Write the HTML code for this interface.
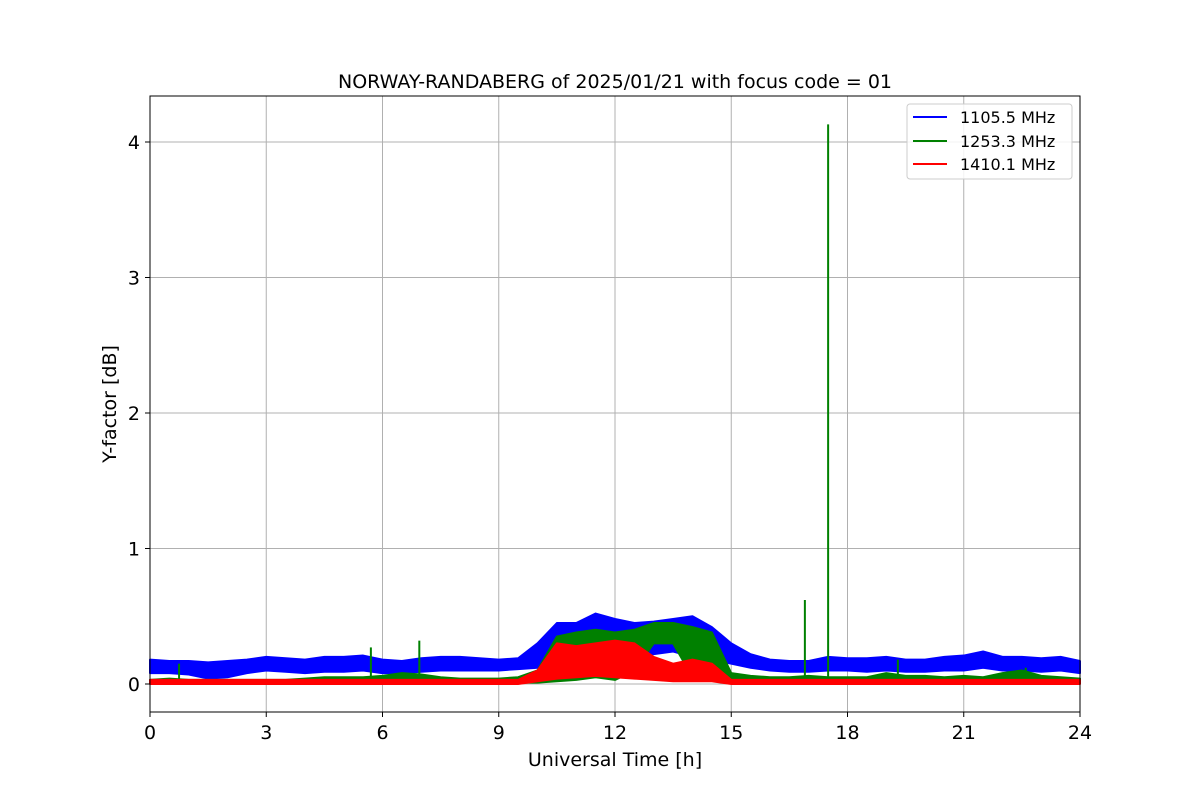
<!DOCTYPE html>
<html><head><meta charset="utf-8"><style>
body{margin:0;background:#fff;}
svg text{font-family:"DejaVu Sans","Liberation Sans",sans-serif;}
</style></head><body>
<svg id="chart" width="1200" height="800" xmlns="http://www.w3.org/2000/svg">
<rect width="1200" height="800" fill="#fff"/>
<text x="615" y="88" text-anchor="middle" font-size="19">NORWAY-RANDABERG of 2025/01/21 with focus code = 01</text>
<g id="grid"></g>
<g id="series"></g>
<rect x="150" y="96" width="930" height="616" fill="none" stroke="#000" stroke-width="1"/>
<g id="axes"></g>
<text x="615" y="766" text-anchor="middle" font-size="19">Universal Time [h]</text>
<text transform="translate(116,404) rotate(-90)" text-anchor="middle" font-size="19">Y-factor [dB]</text>
<g>
<rect x="907" y="104" width="165" height="75" rx="3" fill="#fff" fill-opacity="0.85" stroke="#ccc"/>
<line x1="913" y1="117" x2="947" y2="117" stroke="#0000ff" stroke-width="2"/>
<text x="960" y="123" font-size="16">1105.5 MHz</text>
<line x1="913" y1="141" x2="947" y2="141" stroke="#008000" stroke-width="2"/>
<text x="960" y="147" font-size="16">1253.3 MHz</text>
<line x1="913" y1="164" x2="947" y2="164" stroke="#ff0000" stroke-width="2"/>
<text x="960" y="170" font-size="16">1410.1 MHz</text>
</g>
</svg>
<script>
const xTicks=[0,3,6,9,12,15,18,21,24];
const yTicks=[0,1,2,3,4];
const times=[0,0.5,1,1.5,2,2.5,3,3.5,4,4.5,5,5.5,6,6.5,7,7.5,8,8.5,9,9.5,10,10.5,11,11.5,12,12.5,13,13.5,14,14.5,15,15.5,16,16.5,17,17.5,18,18.5,19,19.5,20,20.5,21,21.5,22,22.5,23,23.5,24];
const blueHi=[0.18,0.17,0.17,0.16,0.17,0.18,0.2,0.19,0.18,0.2,0.2,0.21,0.18,0.17,0.19,0.2,0.2,0.19,0.18,0.19,0.3,0.45,0.45,0.52,0.48,0.45,0.46,0.48,0.5,0.42,0.3,0.22,0.18,0.17,0.17,0.2,0.19,0.19,0.2,0.18,0.18,0.2,0.21,0.24,0.2,0.2,0.19,0.2,0.17];
const blueLo=[0.08,0.08,0.07,0.04,0.05,0.08,0.1,0.09,0.08,0.09,0.09,0.1,0.08,0.08,0.09,0.1,0.1,0.1,0.1,0.11,0.12,0.18,0.2,0.25,0.22,0.2,0.22,0.24,0.2,0.18,0.15,0.12,0.1,0.09,0.09,0.1,0.1,0.09,0.1,0.09,0.09,0.1,0.1,0.12,0.1,0.1,0.09,0.1,0.08];
const greenHi=[0.03,0.04,0.03,0.03,0.03,0.03,0.03,0.03,0.04,0.05,0.05,0.05,0.06,0.08,0.07,0.05,0.04,0.04,0.04,0.05,0.1,0.35,0.38,0.4,0.38,0.4,0.45,0.45,0.42,0.38,0.08,0.06,0.05,0.05,0.06,0.05,0.05,0.05,0.08,0.06,0.06,0.05,0.06,0.05,0.08,0.1,0.06,0.05,0.04];
const greenLo=[0.01,0.01,0.01,0.01,0.01,0.01,0.01,0.01,0.01,0.01,0.01,0.01,0.01,0.01,0.01,0.01,0.01,0.01,0.01,0.01,0.01,0.02,0.03,0.05,0.03,0.1,0.3,0.3,0.05,0.03,0.01,0.01,0.01,0.01,0.01,0.01,0.01,0.01,0.01,0.01,0.01,0.01,0.01,0.01,0.01,0.01,0.01,0.01,0.01];
const redHi=[0.03,0.03,0.03,0.03,0.03,0.03,0.03,0.03,0.03,0.03,0.03,0.03,0.03,0.03,0.03,0.03,0.03,0.03,0.03,0.03,0.1,0.3,0.28,0.3,0.32,0.3,0.2,0.15,0.18,0.15,0.03,0.03,0.03,0.03,0.03,0.03,0.03,0.03,0.03,0.03,0.03,0.03,0.03,0.03,0.03,0.03,0.03,0.03,0.03];
const redLo=[0.0,0.0,0.0,0.0,0.0,0.0,0.0,0.0,0.0,0.0,0.0,0.0,0.0,0.0,0.0,0.0,0.0,0.0,0.0,0.0,0.02,0.04,0.05,0.06,0.05,0.04,0.03,0.02,0.02,0.02,0.0,0.0,0.0,0.0,0.0,0.0,0.0,0.0,0.0,0.0,0.0,0.0,0.0,0.0,0.0,0.0,0.0,0.0,0.0];
const greenSpikeT=[0.75,5.7,6.95,16.9,17.5,19.3,22.6];
const greenSpikeV=[0.15,0.27,0.32,0.62,4.13,0.18,0.12];
const X=t=>150+t*930/24;
const Y=v=>684-v*135.5;
const NS="http://www.w3.org/2000/svg";
const grid=document.getElementById('grid'),axes=document.getElementById('axes'),ser=document.getElementById('series');
function mk(tag,attrs,parent){const e=document.createElementNS(NS,tag);for(const k in attrs)e.setAttribute(k,attrs[k]);parent.appendChild(e);return e;}
xTicks.forEach(t=>{
  const g=mk('line',{x1:X(t),x2:X(t),y1:96,y2:712,stroke:'#b0b0b0','stroke-width':1},grid);
  
  
  mk('line',{x1:X(t),x2:X(t),y1:712,y2:717,stroke:'#000'},axes);
  const tx=mk('text',{x:X(t),y:739,'text-anchor':'middle','font-size':19},axes);
  tx.textContent=t;
  
  
});
yTicks.forEach(v=>{
  const g=mk('line',{x1:150,x2:1080,y1:Y(v),y2:Y(v),stroke:'#b0b0b0','stroke-width':1},grid);
  
  
  mk('line',{x1:145,x2:150,y1:Y(v),y2:Y(v),stroke:'#000'},axes);
  const tx=mk('text',{x:140,y:Y(v)+7,'text-anchor':'end','font-size':19},axes);
  tx.textContent=v;
  
  
});
function band(hi,lo,color,name){
  let d='M'+times.map((t,i)=>X(t)+','+Y(hi[i])).join(' L');
  for(let i=times.length-1;i>=0;i--)d+=' L'+X(times[i])+','+Y(lo[i]);
  d+=' Z';
  const p=mk('path',{d:d,fill:color,stroke:color,'stroke-width':2,'stroke-linejoin':'round'},ser);
  
  
}
band(blueHi,blueLo,'#0000ff','series-1105-mhz');
band(greenHi,greenLo,'#008000','series-1253-mhz');
greenSpikeT.forEach((t,i)=>{
  const l=mk('line',{x1:X(t),x2:X(t),y1:Y(0.02),y2:Y(greenSpikeV[i]),stroke:'#008000','stroke-width':2},ser);
  
  
});
band(redHi,redLo,'#ff0000','series-1410-mhz');
</script>
</body></html>
